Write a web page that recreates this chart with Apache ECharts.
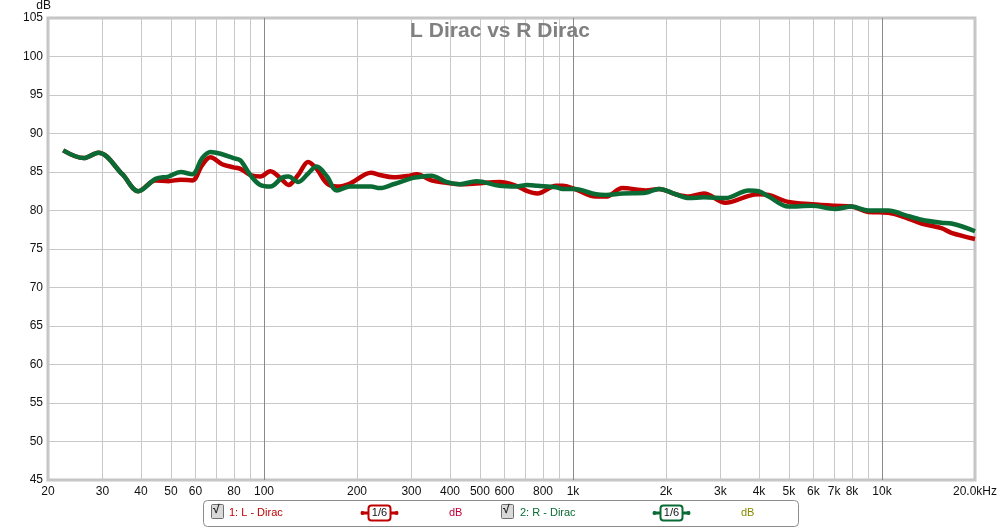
<!DOCTYPE html>
<html><head><meta charset="utf-8">
<script src="https://cdn.jsdelivr.net/npm/echarts@6/dist/echarts.min.js"></script>
<style>html,body{margin:0;padding:0;background:#fff}#c{width:1000px;height:528px}</style>
</head><body><div id="c"></div>
<script>
// Frequencies (Hz) sampled along the curves
const freqs = [22.4, 26.1, 29.1, 34.8, 39.2, 44.6, 49.1, 53.7, 58.6, 63.1, 67.1, 73.2, 79.6, 83.9, 90.3, 97.3, 104.8, 115, 120, 129, 139, 148, 160, 172, 190, 222, 237, 262, 296, 312, 348, 389, 430, 487, 579, 655, 712, 767, 882, 926, 1010, 1187, 1278, 1446, 1720, 1899, 2150, 2374, 2652, 3116, 3704, 3990, 4298, 4988, 5929, 7054, 7980, 9032, 10482, 11866, 13424, 15572, 16770, 20000];
// 1: L - Dirac (dB)
const dbLeft = [87.8, 86.8, 87.5, 84.7, 82.5, 83.9, 83.8, 84.0, 83.9, 85.9, 86.9, 86.0, 85.6, 85.4, 84.6, 84.4, 85.1, 83.9, 83.3, 84.6, 86.3, 85.4, 83.5, 83.1, 83.5, 84.9, 84.6, 84.3, 84.5, 84.7, 83.9, 83.6, 83.4, 83.5, 83.7, 83.2, 82.5, 82.2, 83.2, 83.2, 82.8, 81.8, 81.8, 82.9, 82.6, 82.8, 82.1, 81.8, 82.2, 81.0, 81.9, 82.1, 82.0, 81.1, 80.8, 80.6, 80.5, 79.8, 79.7, 79.1, 78.3, 77.7, 77.1, 76.3];
// 2: R - Dirac (dB)
const dbRight = [87.8, 86.8, 87.5, 84.7, 82.5, 84.1, 84.4, 85.0, 84.7, 86.8, 87.6, 87.3, 86.8, 86.5, 84.6, 83.3, 83.1, 84.3, 84.4, 83.7, 84.8, 85.7, 84.4, 82.6, 83.1, 83.1, 82.9, 83.4, 84.1, 84.3, 84.5, 83.7, 83.4, 83.8, 83.2, 83.1, 83.3, 83.2, 83.0, 82.8, 82.8, 82.1, 82.0, 82.2, 82.3, 82.8, 82.1, 81.6, 81.7, 81.6, 82.6, 82.5, 81.8, 80.5, 80.6, 80.2, 80.5, 80.0, 80.0, 79.4, 78.8, 78.4, 78.3, 77.3];
// Axis ticks
const xLabelValues = [20, 30, 40, 50, 60, 80, 100, 200, 300, 400, 500, 600, 800, 1000, 2000, 3000, 4000, 5000, 6000, 7000, 8000, 10000, 20000];
const xGridValues = [20, 30, 40, 50, 60, 70, 80, 90, 100, 200, 300, 400, 500, 600, 700, 800, 900, 1000, 2000, 3000, 4000, 5000, 6000, 7000, 8000, 9000, 10000, 20000];
const decadeValues = [100, 1000, 10000];
const yMin = 45, yMax = 105, yStep = 5;

const FONT = "'Liberation Sans Narrow', 'Liberation Sans', Arial, sans-serif";
const RED = '#c00000', GREEN = '#0a6b35';

function fmtFreq(v) {
  if (v >= 20000) return '20.0kHz';
  if (v >= 1000) return (v / 1000) + 'k';
  return String(v);
}

const chart = echarts.init(document.getElementById('c'), null, {renderer: 'canvas'});

function legendItems() {
  const els = [];
  els.push({type: 'rect', shape: {x: 203.5, y: 500.5, width: 595, height: 26, r: 4}, style: {fill: '#fff', stroke: '#8c8c8c', lineWidth: 1}});
  function checkbox(x) {
    els.push({type: 'rect', shape: {x: x + 0.5, y: 504.5, width: 12, height: 14, r: 1}, style: {fill: '#d9d9d9', stroke: '#6e6e6e', lineWidth: 1}});
    els.push({type: 'text', x: x + 2, y: 504, style: {text: '\u221A', font: 'bold 12px ' + FONT, fill: '#222'}});
  }
  function filterBox(x, color) {
    els.push({type: 'line', shape: {x1: x, y1: 513, x2: x + 37, y2: 513}, style: {stroke: color, lineWidth: 3}});
    els.push({type: 'circle', shape: {cx: x + 1.5, cy: 513, r: 2}, style: {fill: color}});
    els.push({type: 'circle', shape: {cx: x + 35.5, cy: 513, r: 2}, style: {fill: color}});
    els.push({type: 'rect', shape: {x: x + 7.5, y: 505.5, width: 22, height: 15, r: 3}, style: {fill: '#fff', stroke: color, lineWidth: 2}});
    els.push({type: 'text', x: x + 18.5, y: 513, style: {text: '1/6', font: '11px ' + FONT, fill: '#111', align: 'center', verticalAlign: 'middle'}});
  }
  checkbox(211);
  els.push({type: 'text', x: 229, y: 513, style: {text: '1: L - Dirac', font: '11px ' + FONT, fill: RED, verticalAlign: 'middle'}});
  filterBox(361, RED);
  els.push({type: 'text', x: 449, y: 513, style: {text: 'dB', font: '11px ' + FONT, fill: '#c0003a', verticalAlign: 'middle'}});
  checkbox(501);
  els.push({type: 'text', x: 520, y: 513, style: {text: '2: R - Dirac', font: '11px ' + FONT, fill: GREEN, verticalAlign: 'middle'}});
  filterBox(653, GREEN);
  els.push({type: 'text', x: 741, y: 513, style: {text: 'dB', font: '11px ' + FONT, fill: '#8a8a00', verticalAlign: 'middle'}});
  return els;
}

const option = {
  backgroundColor: '#fff',
  animation: false,
  title: {
    text: 'L Dirac vs R Dirac', left: 'center', top: 16,
    textStyle: {fontFamily: FONT, fontSize: 21, fontWeight: 'bold', color: '#808080'}
  },
  grid: {left: 48, right: 23, top: 15, bottom: 48, show: true, borderColor: '#c4c4c4', borderWidth: 3, backgroundColor: '#fff'},
  xAxis: {
    type: 'log', logBase: 10, min: 20, max: 20000,
    axisLine: {show: false},
    axisTick: {show: false, customValues: xGridValues},
    minorTick: {show: false},
    splitLine: {show: true, lineStyle: {color: '#c8c8c8', width: 1}},
    axisLabel: {customValues: xLabelValues, formatter: fmtFreq, fontFamily: FONT, fontSize: 12, color: '#111', margin: 6}
  },
  yAxis: {
    type: 'value', min: yMin, max: yMax, interval: yStep,
    name: 'dB', nameLocation: 'end', nameGap: 2,
    nameTextStyle: {fontFamily: FONT, fontSize: 12, color: '#111', align: 'right', padding: [0, -3, 0, 0]},
    axisLine: {show: false}, axisTick: {show: false},
    splitLine: {show: true, lineStyle: {color: '#c8c8c8', width: 1}},
    axisLabel: {fontFamily: FONT, fontSize: 12, color: '#111', margin: 5}
  },
  series: [
    {
      name: '1: L - Dirac', type: 'line', smooth: 0.35, symbol: 'none',
      data: freqs.map((f, i) => [f, dbLeft[i]]),
      lineStyle: {color: RED, width: 4.5}, z: 3,
      markLine: {
        silent: true, symbol: 'none', label: {show: false},
        lineStyle: {color: '#8a8a8a', width: 1, type: 'solid'},
        data: decadeValues.map(v => ({xAxis: v})), z: 1
      }
    },
    {
      name: '2: R - Dirac', type: 'line', smooth: 0.35, symbol: 'none',
      data: freqs.map((f, i) => [f, dbRight[i]]),
      lineStyle: {color: GREEN, width: 4.5}, z: 4
    }
  ],
  graphic: legendItems()
};
chart.setOption(option);
</script>
</body></html>
